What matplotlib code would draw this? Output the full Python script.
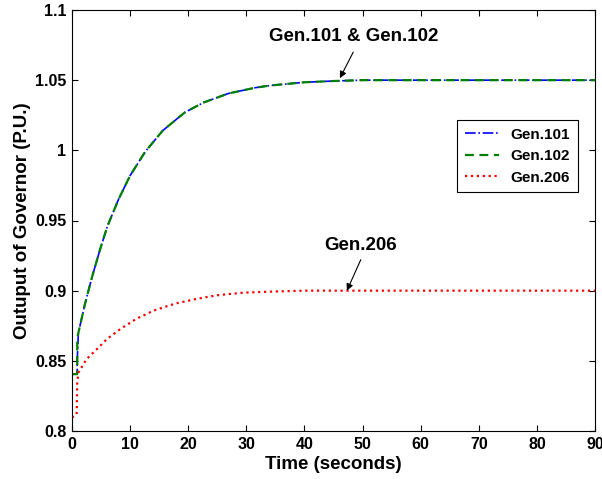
import matplotlib
matplotlib.use("Agg")
import matplotlib.pyplot as plt

# time points (seconds) and governor outputs
time_main = [0, 0.9, 0.9, 1.1, 2.2, 3.4, 4.8, 6.1, 8.0, 10.0, 12.6, 15.6,
             19.4, 22.6, 26.9, 31.5, 34.1, 40, 45, 50, 90]
gen101 = [0.8405, 0.8405, 0.85, 0.870, 0.890, 0.909, 0.929, 0.946, 0.965,
          0.982, 0.999, 1.014, 1.027, 1.034, 1.0405, 1.0446, 1.0462, 1.0485,
          1.0494, 1.05, 1.05]
gen102 = [0.8405, 0.8405, 0.866, 0.870, 0.890, 0.909, 0.929, 0.946, 0.965,
          0.982, 0.999, 1.014, 1.027, 1.034, 1.0405, 1.0446, 1.0462, 1.0485,
          1.0494, 1.05, 1.05]

time_206 = [0, 0.8, 0.9, 1.1, 2.5, 4.3, 6.0, 8.3, 11.1, 14.0, 16.6, 18.0,
            21.5, 24.9, 29.5, 34.1, 39.8, 90]
gen206 = [0.8095, 0.812, 0.834, 0.8416, 0.8512, 0.8584, 0.8655, 0.8726,
          0.8800, 0.8857, 0.8893, 0.8910, 0.8942, 0.8967, 0.8986, 0.8993,
          0.9, 0.9]

plt.rcParams['font.family'] = 'Liberation Sans'
plt.rcParams['font.weight'] = 'bold'

fig = plt.figure(figsize=(6.02, 4.79), dpi=100)
ax = fig.add_axes([72 / 602, 48 / 479, 523 / 602, 421 / 479])

ax.plot(time_main, gen101, color='blue', linestyle='-.', linewidth=1.2, label='Gen.101')
ax.plot(time_main, gen102, color='green', linestyle='--', linewidth=1.6,
        dashes=(4, 2.5), label='Gen.102')
ax.plot(time_206, gen206, color='red', linestyle=':', linewidth=1.6, label='Gen.206')

ax.set_xlim(0, 90)
ax.set_ylim(0.8, 1.1)
ax.set_xticks(range(0, 91, 10))
ax.set_yticks([0.8, 0.85, 0.9, 0.95, 1, 1.05, 1.1])
ax.set_yticklabels(['0.8', '0.85', '0.9', '0.95', '1', '1.05', '1.1'])
ax.tick_params(direction='in', top=True, right=True, labelsize=11.5, length=4, pad=4)

ax.set_xlabel('Time (seconds)', fontsize=13.5, fontweight='bold', labelpad=3)
ax.set_ylabel('Outuput of Governor (P.U.)', fontsize=13.5, fontweight='bold', labelpad=3)

# annotations: text and arrows
ax.text(48.5, 1.081, 'Gen.101 & Gen.102', ha='center', va='center',
        fontsize=13.5, fontweight='bold')
ax.annotate('', xy=(46.1, 1.0514), xytext=(48.4, 1.070),
            arrowprops=dict(arrowstyle='-|>', color='black', lw=0.8,
                            shrinkA=0, shrinkB=0, mutation_scale=10))
ax.text(49.6, 0.932, 'Gen.206', ha='center', va='center',
        fontsize=13.5, fontweight='bold')
ax.annotate('', xy=(47.3, 0.9), xytext=(49.7, 0.9221),
            arrowprops=dict(arrowstyle='-|>', color='black', lw=0.8,
                            shrinkA=0, shrinkB=0, mutation_scale=10))

leg = ax.legend(loc='upper right', bbox_to_anchor=(0.9675, 0.739), fontsize=11,
                fancybox=False, framealpha=1, edgecolor='black',
                handlelength=2.2, borderpad=0.5, labelspacing=0.5,
                borderaxespad=0)
leg.get_frame().set_linewidth(0.8)

plt.savefig('out.png', dpi=100)
plt.clf()
